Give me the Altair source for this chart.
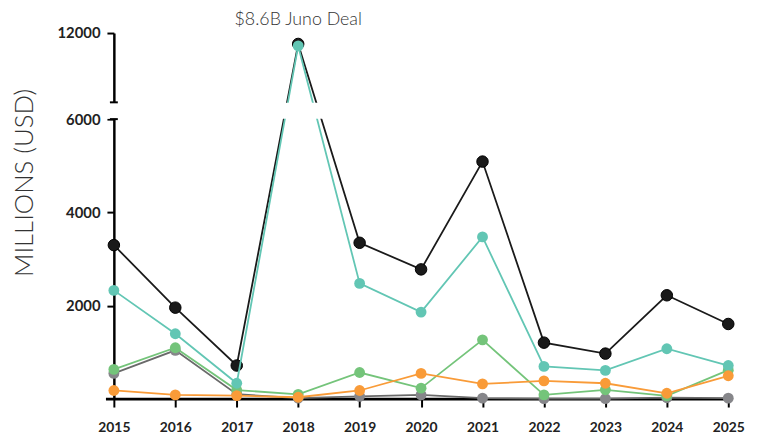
import altair as alt
import pandas as pd

years = list(range(2015, 2026))
total = [3300, 1960, 720, 11240, 3350, 2780, 5090, 1210, 975, 2225, 1610]
teal = [2330, 1400, 340, 11100, 2480, 1865, 3475, 700, 615, 1080, 720]
green = [636, 1100, 195, 100, 570, 235, 1270, 90, 200, 70, 620]
orange = [185, 90, 75, 40, 185, 550, 325, 390, 340, 125, 500]
gray = [550, 1045, 105, 20, 60, 90, 20, 10, 10, 30, 20]

series = {
    "Total": total,
    "Gray": gray,
    "Green": green,
    "Teal": teal,
    "Orange": orange,
}
line_colors = {"Total": "#1a1a1a", "Gray": "#6a6a6a", "Green": "#74c47a",
               "Teal": "#62c6b4", "Orange": "#f99b38"}
point_colors = {"Total": "#1a1a1a", "Gray": "#86868a", "Green": "#74c47a",
                "Teal": "#62c6b4", "Orange": "#f99b38"}

y_ticks = [2000, 4000, 6000, 12000]
annotation = "$8.6B Juno Deal"

rows = []
for name, vals in series.items():
    for yr, v in zip(years, vals):
        rows.append({"year": yr, "value": v, "series": name})
df = pd.DataFrame(rows)

W, H = 621, 370
FONT = "Lato"

xscale = alt.Scale(domain=[2015, 2025], nice=False, zero=False)
yscale = alt.Scale(domain=[0, 6000, 12000], range=[H, 87, 0], nice=False, zero=False)

xaxis = alt.Axis(values=years, format="d", title=None, domain=False, grid=False,
                 tickSize=8, tickWidth=2, tickColor="#000", labelFlush=False,
                 labelFont=FONT, labelFontWeight="bold", labelFontSize=14,
                 labelColor="#222", labelPadding=14)
yaxis = alt.Axis(values=y_ticks, format="d", title="MILLIONS (USD)", grid=False,
                 domainWidth=2.5, domainColor="#000", tickSize=7, tickWidth=2,
                 tickColor="#000", labelFont=FONT, labelFontWeight="bold",
                 labelFontSize=15, labelColor="#222", labelPadding=7, labelFlush=False,
                 titleFont=FONT, titleFontWeight=300, titleFontSize=26,
                 titleColor="#333", titleAngle=270, titleX=-90, titleY=151,
                 titleAlign="center", titleBaseline="middle")

X = alt.X("year:Q", scale=xscale, axis=xaxis)
Y = alt.Y("value:Q", scale=yscale, axis=yaxis)

layers = []

baseline = alt.Chart(pd.DataFrame({"value": [0]})).mark_rule(
    color="#000", strokeWidth=3).encode(
    x=alt.value(-8), x2=alt.value(W + 2), y=Y)
layers.append(baseline)

for name in series:
    sub = alt.Chart(df).transform_filter(alt.datum.series == name)
    layers.append(sub.mark_line(color=line_colors[name], strokeWidth=1.8).encode(x=X, y=Y))
    layers.append(sub.mark_circle(color=point_colors[name], opacity=1,
                                  size=135 if name == "Total" else 120,
                                  stroke="#000" if name == "Total" else None,
                                  strokeWidth=1 if name == "Total" else 0).encode(x=X, y=Y))

band = alt.Chart(pd.DataFrame({"value": [6020], "value2": [7140]})).mark_rect(
    color="white").encode(x=alt.value(-12), x2=alt.value(W + 8), y=Y, y2="value2:Q")
layers.append(band)

caps = alt.Chart(pd.DataFrame({"value": [6000, 7170]})).mark_rule(
    color="#000", strokeWidth=2).encode(x=alt.value(-4), x2=alt.value(4), y=Y)
layers.append(caps)

note = alt.Chart(pd.DataFrame({"year": [2018], "value": [12000], "label": [annotation]})).mark_text(
    font=FONT, fontSize=18, fontWeight=300, color="#333", dy=-13).encode(
    x=X, y=Y, text="label:N")
layers.append(note)

chart = alt.layer(*layers).properties(
    width=W, height=H,
    autosize=alt.AutoSizeParams(type="none"),
    padding={"left": 107, "top": 23, "right": 26, "bottom": 38},
).configure_view(stroke=None)

chart.save("out.html", embed_options={"renderer": "svg", "actions": False})
